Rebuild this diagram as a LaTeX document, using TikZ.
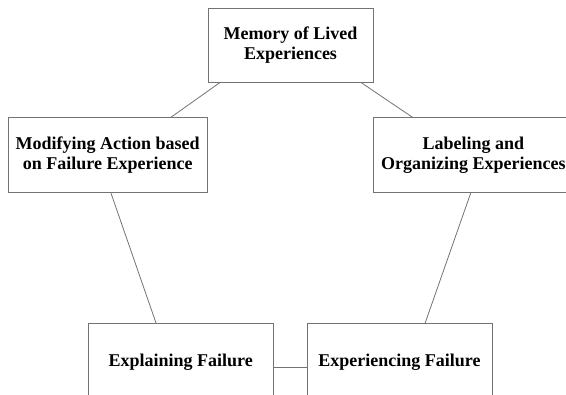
\documentclass[tikz,border=0pt]{standalone}
\usepackage{fontspec}
\setmainfont{Liberation Serif}
\usetikzlibrary{positioning}
\tikzset{
    %Define style for boxes
    kasse/.style={
           rectangle,
           draw=black!55, line width=0.8pt,
           font=\fontsize{18}{20.5}\selectfont\bfseries,
           align=center,
           inner sep=0pt},
    % Define line style
    linje/.style={
           draw=black!55,
           line width=0.8pt}
}

\begin{document}
\begin{tikzpicture}[x=1pt,y=1pt]
\useasboundingbox (0,0) rectangle (566,-395);
\clip (0,0) rectangle (566,-395);
\node [kasse,minimum width=165pt,minimum height=74pt] (mem) at (290.5,-45) {Memory of Lived\\Experiences};
\node [kasse,minimum width=199pt,minimum height=75pt,below left=35pt and 0pt of mem.south west] (modify) {Modifying Action based\\on Failure Experience};
\node [kasse,minimum width=199pt,minimum height=75pt,below right=35pt and 0pt of mem.south east] (labeling) {Labeling and\\Organizing Experiences};
\node [kasse,minimum width=185pt,minimum height=78pt,below right=130pt and 80pt of modify.south west] (explain) {Explaining Failure};
\node [kasse,minimum width=185pt,minimum height=78pt,right=33pt of explain] (experience) {Experiencing Failure};
\draw [linje] (mem.208) -- (modify.31);
\draw [linje] (mem.332) -- (labeling.148);
\draw [linje] (modify.275) -- (explain.122);
\draw [linje] (labeling.266) -- (experience.57);
\draw [linje] (explain.-3) -- (experience.183);
\end{tikzpicture}
\end{document}
